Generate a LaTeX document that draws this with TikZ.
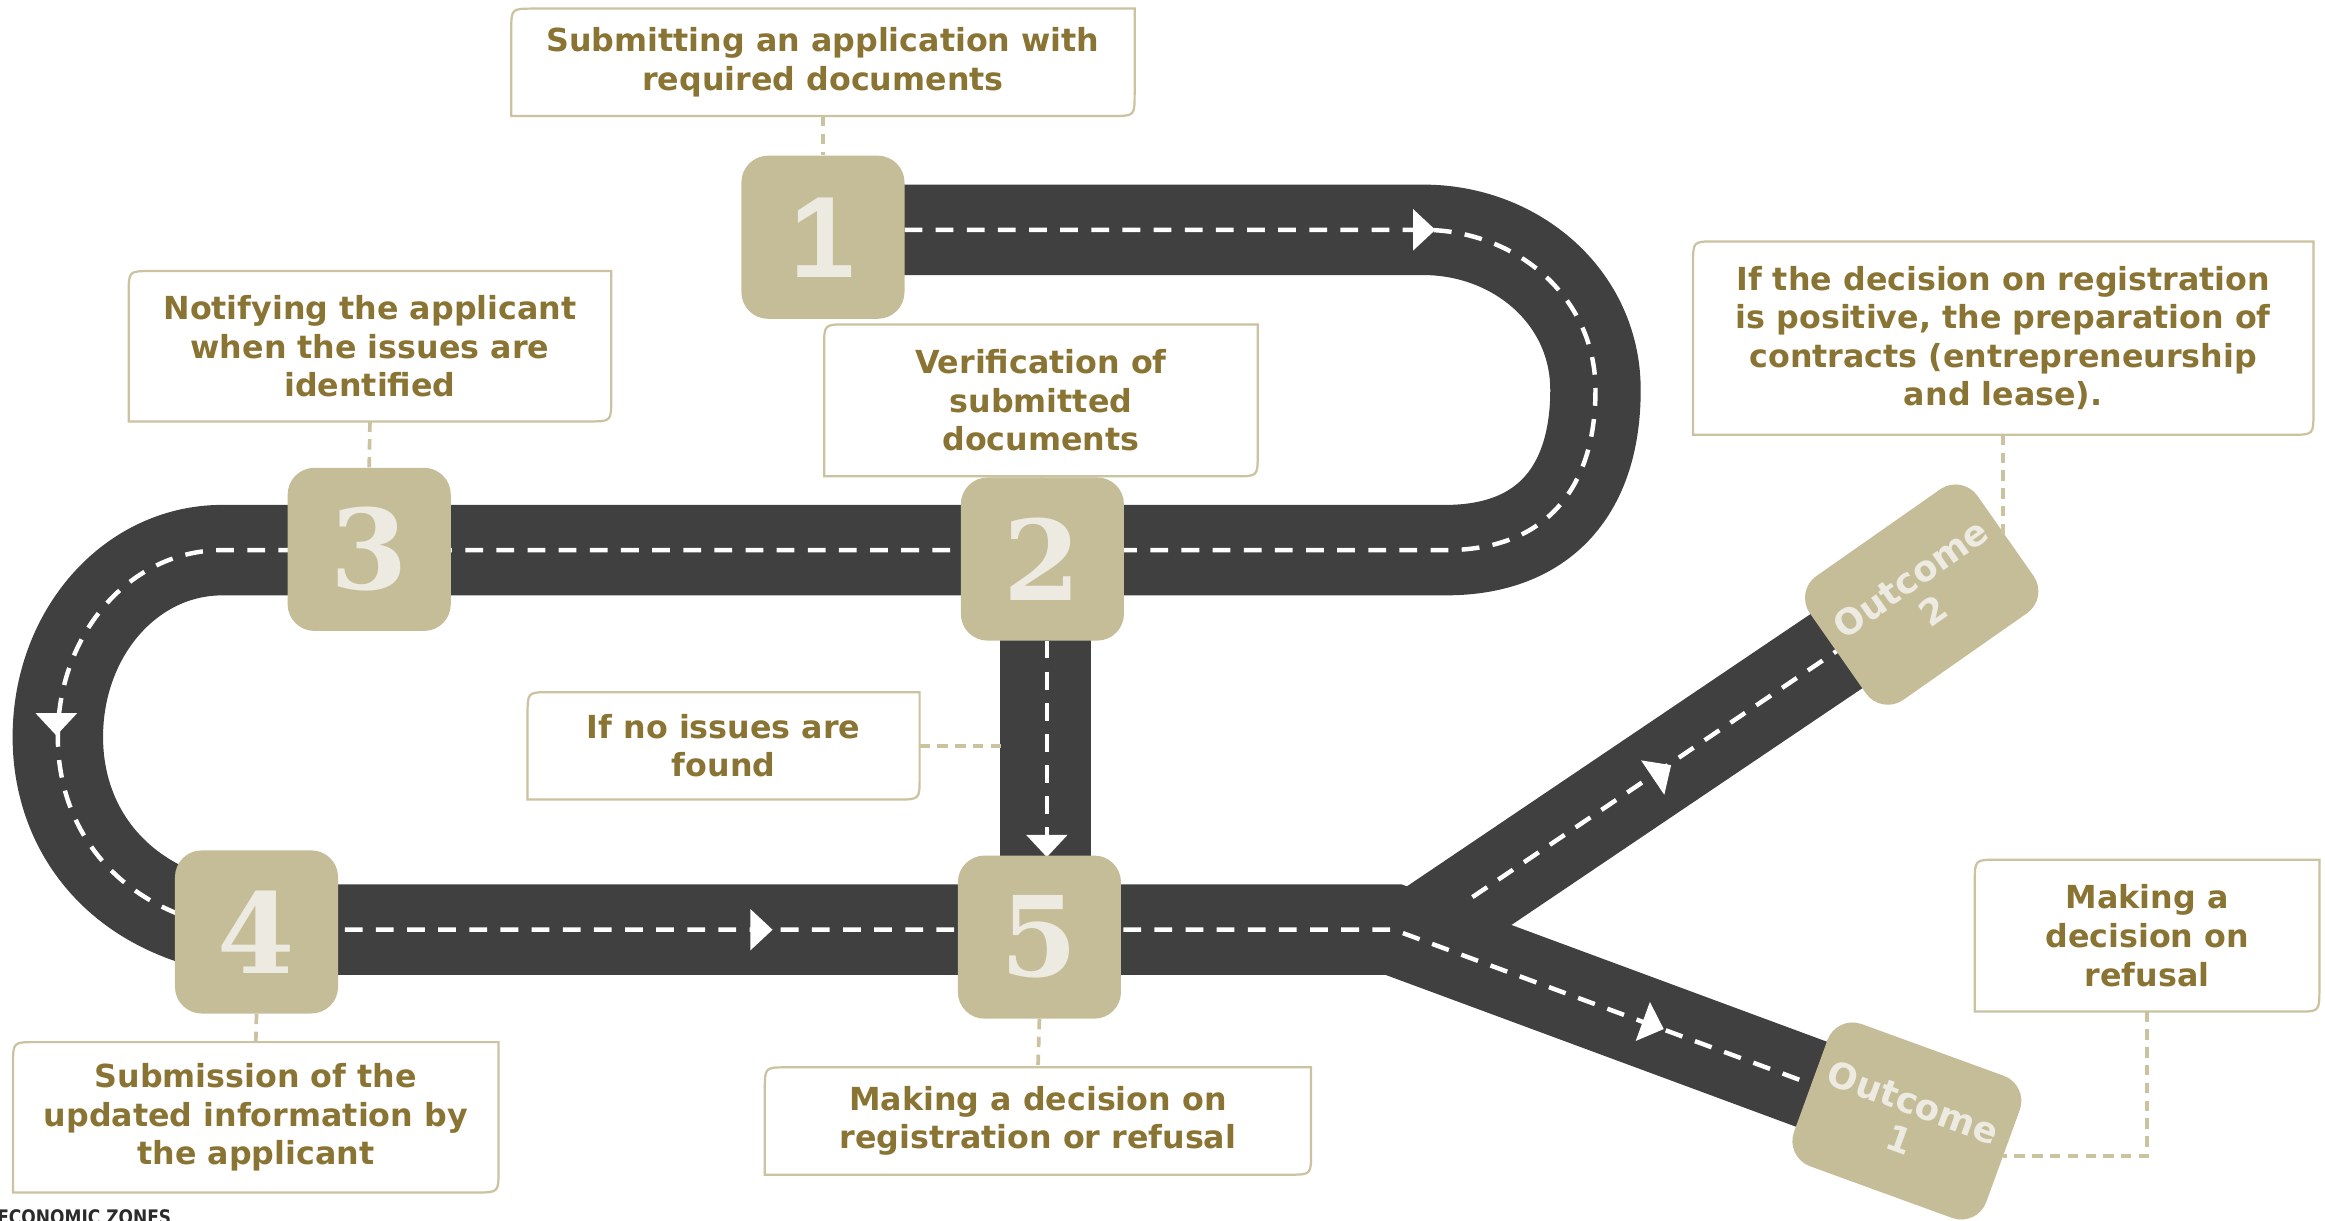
\documentclass[tikz,border=0pt]{standalone}
\usepackage{fontspec}
\setmainfont{DejaVu Sans}
\newfontfamily\digserif{DejaVu Serif}
\newfontfamily\digsans{Liberation Sans}
\newfontfamily\condfont{DejaVu Sans}[FakeStretch=0.85]
\definecolor{roadc}{HTML}{404040}
\definecolor{tanbox}{HTML}{C5BD98}
\definecolor{tanline}{HTML}{CBC3A0}
\definecolor{txtc}{HTML}{8A7434}
\definecolor{digc}{HTML}{EDEBE1}
\definecolor{ezc}{HTML}{2B2B2B}
\tikzset{
  road/.style={draw=roadc, line width=61pt, line join=miter},
  lane/.style={draw=white, line width=3pt, dash pattern=on 12pt off 9pt},
  numbox/.style={fill=tanbox, rounded corners=18pt, minimum width=110pt, minimum height=110pt,
    inner sep=0pt, text=digc, font=\digsans\fontsize{78}{78}\selectfont\bfseries},
  numserif/.style={font=\digserif\fontsize{75}{75}\selectfont\bfseries},
  outbox/.style={fill=tanbox, rounded corners=18pt, minimum width=138pt, minimum height=102pt,
    inner sep=0pt, text=digc, align=center, font=\fontsize{24}{27}\selectfont\bfseries},
  callout/.style={inner sep=0pt, align=center, text=txtc, font=\fontsize{21.4}{26}\selectfont\bfseries},
  callborder/.style={draw=tanline, line width=1.5pt},
  conn/.style={draw=tanline, line width=2.5pt, dash pattern=on 7pt off 5pt},
}
\newcommand\callout[5]{%
  \node[callout, minimum width=#3pt, minimum height=#4pt] (#1) at (#2) {#5};
  \draw[callborder] (#1.south west) -- ([yshift=-15pt]#1.north west)
    .. controls (#1.north west) .. ([xshift=15pt]#1.north west) -- (#1.north east)
    -- ([yshift=15pt]#1.south east) .. controls (#1.south east) .. ([xshift=-15pt]#1.south east) -- cycle;}
\newcommand\roadarrow[3]{\fill[white, shift={(#1,#2)}, rotate=#3] (0,0) -- (-15,-14) -- (-15,14) -- cycle;}
\begin{document}
\begin{tikzpicture}[x=1pt,y=-1pt]
\clip (0,0) rectangle (1568,823);
\fill[white] (0,0) rectangle (1568,823);
% roads
\draw[road] (960,627) -- (1295,401);
\draw[road] (555,155) -- (960,155) .. controls (1022,155) and (1076,200) .. (1076,263)
  .. controls (1076,330) and (1042,371) .. (975,371) -- (150,371)
  .. controls (87.6,371) and (39,427.4) .. (39,497)
  .. controls (39,560) and (80,615) .. (160,627) -- (940,627) -- (1286,755);
\draw[road] (705,425) -- (705,585);
% lane markings
\draw[lane] (610,155) -- (960,155) .. controls (1022,155) and (1076,200) .. (1076,263)
  .. controls (1076,330) and (1042,371) .. (975,371) -- (150,371)
  .. controls (87.6,371) and (39,427.4) .. (39,497)
  .. controls (39,560) and (80,615) .. (160,627) -- (940,627) -- (1286,755);
\draw[lane] (993,605) -- (1295,401);
\draw[lane] (706,432) -- (706,578);
% direction arrows
\roadarrow{968}{155}{0}
\roadarrow{38}{496}{-90}
\roadarrow{521}{627}{0}
\roadarrow{706}{578}{-90}
\roadarrow{1127}{516}{34}
\roadarrow{1122}{694}{-20}
% callouts
\callout{A}{555,42}{420}{72}{Submitting an application with\\required documents}
\callout{B}{249.5,233.5}{325}{101}{Notifying the applicant\\when the issues are\\identified}
\callout{C}{702,270}{292}{102}{Verification of\\submitted\\documents}
\callout{D}{1351,228}{418}{130}{If the decision on registration\\is positive, the preparation of\\contracts (entrepreneurship\\and lease).}
\callout{E}{488,503}{264}{72}{If no issues are\\found}
\callout{F}{172.5,753.5}{327}{101}{Submission of the\\updated information by\\the applicant}
\callout{G}{700,756}{368}{72}{Making a decision on\\registration or refusal}
\callout{H}{1448,631}{232}{102}{Making a\\decision on\\refusal}
% step boxes
\node[numbox] (n1) at (555,160) {1};
\node[numbox,numserif] (n2) at (703,377) {2};
\node[numbox,numserif] (n3) at (249,370.5) {3};
\node[numbox,numserif] (n4) at (173,628.5) {4};
\node[numbox,numserif] (n5) at (701,632) {5};
\node[outbox, rotate=35] (o2) at (1296,401) {Outcome\\2};
\node[outbox, rotate=-20] (o1) at (1286,756) {Outcome\\1};
% connectors
\coordinate (roadE) at (675,503);
\draw[conn] (A.south) -- (n1.north);
\draw[conn] (B.south) -- (n3.north);
\draw[conn] (C.south) -- (n2.north);
\draw[conn] (D.south) -- (D.south |- o2.east);
\draw[conn] (E.east) -- (roadE);
\draw[conn] (n4.south) -- (F.north);
\draw[conn] (n5.south) -- (G.north);
\draw[conn] (H.south) |- (o1.east);
% footer fragment
\node[anchor=base west, inner sep=0pt, text=ezc, font=\condfont\bfseries\fontsize{13.5}{13.5}\selectfont] (ez) at (-2,826) {ECONOMIC ZONES};
\end{tikzpicture}
\end{document}
